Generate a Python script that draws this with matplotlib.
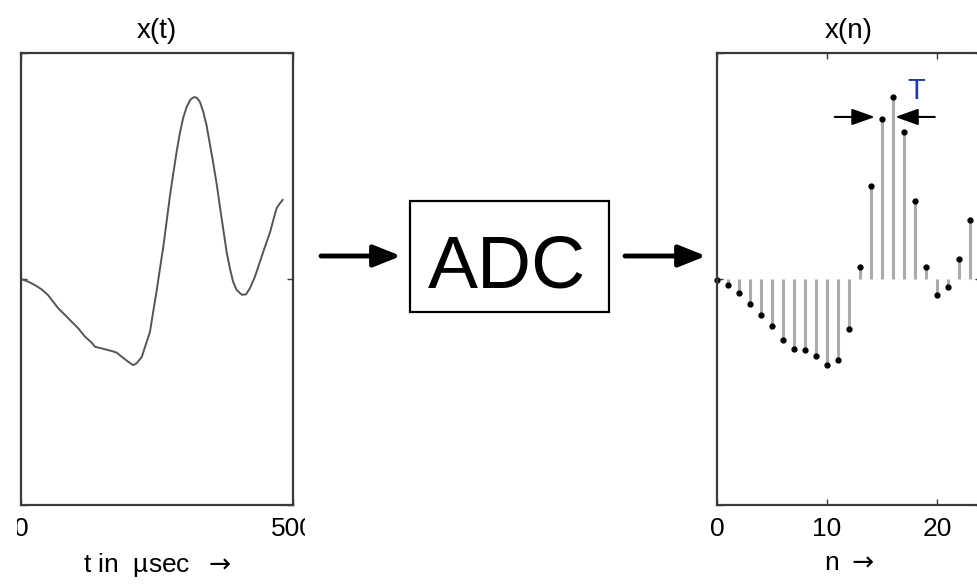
import matplotlib
matplotlib.use('Agg')
import matplotlib.pyplot as plt
from matplotlib.patches import Rectangle

plt.rcParams['font.family'] = ['Liberation Sans', 'DejaVu Sans']

# continuous signal x(t)
t_us = [0, 13.5, 25.7, 38, 49.6, 68.6, 80.9, 93, 104.8, 117.6, 130.5, 136,
        145.2, 154.4, 167.3, 176, 185.7, 197, 205.9, 212.6, 222, 228, 237,
        243, 249, 255.5, 262, 268, 274, 280, 286, 292, 298, 304.6, 311, 315.6,
        320, 324, 329, 335, 341, 347, 353, 360, 366, 372, 378, 384, 390,
        396.5, 406, 413.6, 421, 430, 439, 448.5, 458, 463.8, 470, 476, 481]
x_t = [0, -0.012, -0.027, -0.046, -0.071, -0.13, -0.159, -0.189, -0.217,
       -0.255, -0.283, -0.30, -0.305, -0.311, -0.319, -0.326, -0.345, -0.366,
       -0.381, -0.373, -0.345, -0.30, -0.235, -0.145, -0.058, 0.047, 0.15,
       0.26, 0.372, 0.468, 0.562, 0.645, 0.712, 0.762, 0.792, 0.802, 0.805,
       0.80, 0.783, 0.74, 0.681, 0.60, 0.518, 0.416, 0.314, 0.217, 0.119,
       0.047, -0.013, -0.049, -0.07, -0.068, -0.04, 0.01, 0.075, 0.143, 0.208,
       0.261, 0.314, 0.335, 0.35]

# sampled signal x(n), T = 20 usec
n = list(range(25))
x_n = [-0.005, -0.027, -0.06, -0.11, -0.16, -0.21, -0.27, -0.31, -0.315,
       -0.34, -0.38, -0.36, -0.22, 0.053, 0.41, 0.71, 0.805, 0.65, 0.345,
       0.053, -0.07, -0.035, 0.09, 0.26, 0.35]

fig = plt.figure(figsize=(9.78, 5.87), dpi=100)

W, H = 978.0, 587.0

def box(left, top, width, height):
    return [left / W, (H - top - height) / H, width / W, height / H]

spine_col = '#3a3a3a'
fs = 19

# left panel
ax1 = fig.add_axes(box(21, 53, 272, 452))
ax1.plot(t_us, x_t, color='#555555', lw=1.4)
ax1.set_xlim(0, 500)
ax1.set_ylim(-1, 1)
ax1.set_xticks([0, 500])
ax1.set_yticks([-1, 0, 1])
ax1.set_yticklabels([])
ax1.set_title('x(t)', fontsize=20, pad=11)
ax1.set_xlabel('t in  \u00b5sec  $\\rightarrow$', fontsize=fs, labelpad=7)

# right panel, wider than the visible part of the figure
ax2 = fig.add_axes(box(717, 53, 264, 452))
markerline, stemlines, baseline = ax2.stem(n, x_n, linefmt='-', markerfmt='o',
                                           basefmt=' ')
plt.setp(stemlines, color='#ababab', linewidth=2.2)
plt.setp(markerline, color='black', markersize=3.5, clip_on=False)
ax2.set_xlim(0, 24)
ax2.set_ylim(-1, 1)
ax2.set_xticks([0, 10, 20])
ax2.set_yticks([-1, 0, 1])
ax2.set_yticklabels([])
ax2.set_title('x(n)', fontsize=20, pad=11)
ax2.set_xlabel('n $\\rightarrow$', fontsize=fs, labelpad=7)

# sampling interval marker
hd = dict(arrowstyle='-|>,head_length=0.7,head_width=0.25', color='black',
          lw=1.5, shrinkA=0, shrinkB=0, mutation_scale=20)
ax2.annotate('', xy=(14.35, 0.717), xytext=(10.7, 0.717), arrowprops=hd)
ax2.annotate('', xy=(16.2, 0.717), xytext=(19.8, 0.717), arrowprops=hd)
ax2.text(18.1, 0.83, 'T', color='#1f3c9e', fontsize=21, ha='center', va='center')

for ax in (ax1, ax2):
    for s in ax.spines.values():
        s.set_color(spine_col)
        s.set_linewidth(1.6)
    ax.tick_params(direction='in', length=4, width=1, colors=spine_col,
                   top=True, right=True, labelsize=fs, pad=9,
                   labelcolor='black')

# block diagram overlay in pixel coordinates
ov = fig.add_axes([0, 0, 1, 1], zorder=10)
ov.set_xlim(0, W)
ov.set_ylim(H, 0)
ov.axis('off')

big = dict(arrowstyle='-|>,head_length=0.75,head_width=0.3', color='black',
           lw=3.5, shrinkA=0, shrinkB=0, mutation_scale=22)
ov.annotate('', xy=(401, 256), xytext=(321, 256), arrowprops=big)
ov.annotate('', xy=(706, 256), xytext=(625, 256), arrowprops=big)
ov.add_patch(Rectangle((410, 201), 199, 111, fill=False, edgecolor='black',
                       lw=1.6))
ov.text(507, 287, 'ADC', fontsize=54, ha='center', va='baseline')

# the source picture cuts off the outer tick labels
ov.add_patch(Rectangle((0, 512), 16.5, 40, color='white', lw=0))
ov.add_patch(Rectangle((305, 512), 30, 40, color='white', lw=0))

fig.savefig('out.png', dpi=100)
